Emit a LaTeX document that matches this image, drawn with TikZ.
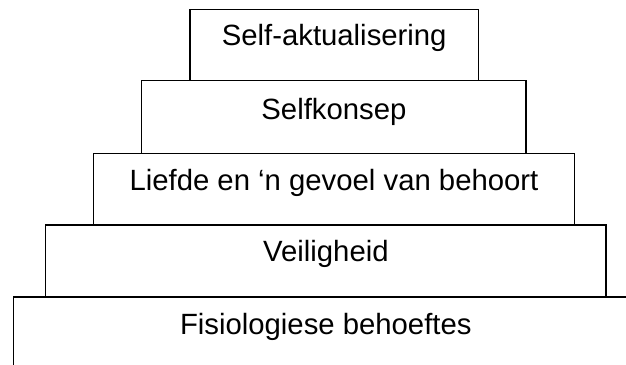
\documentclass[tikz,border=0pt]{standalone}
\usepackage{fontspec}
\setmainfont{Liberation Sans}
\begin{document}
\begin{tikzpicture}[x=1pt,y=-1pt,
  lvl/.style={draw=black, line width=1.3pt, rectangle, inner sep=0pt},
  lbl/.style={anchor=base, inner sep=0pt, font=\fontsize{29.3}{35}\selectfont}]
\clip (0,0) rectangle (626,364);
\fill[white] (0,0) rectangle (626,364);
\node[lvl, minimum width=288.3pt, minimum height=71.2pt] (b1) at (334.2,45.1) {};
\node[lvl, minimum width=384.3pt, minimum height=72.6pt] (b2) at (333.9,117) {};
\node[lvl, minimum width=480.6pt, minimum height=71.7pt] (b3) at (334,189.2) {};
\node[lvl, minimum width=560.3pt, minimum height=72pt] (b4) at (325.9,261) {};
\node[lvl, minimum width=624.2pt, minimum height=80pt] (b5) at (325.8,337) {};
\node[lbl] (t1) at ([yshift=-37pt]b1.north) {Self-aktualisering};
\node[lbl] (t2) at ([yshift=-39pt]b2.north) {Selfkonsep};
\node[lbl] (t3) at ([yshift=-38pt]b3.north) {Liefde en ‘n gevoel van behoort};
\node[lbl] (t4) at ([yshift=-37pt]b4.north) {Veiligheid};
\node[lbl] (t5) at ([yshift=-38pt]b5.north) {Fisiologiese behoeftes};
\end{tikzpicture}
\end{document}
